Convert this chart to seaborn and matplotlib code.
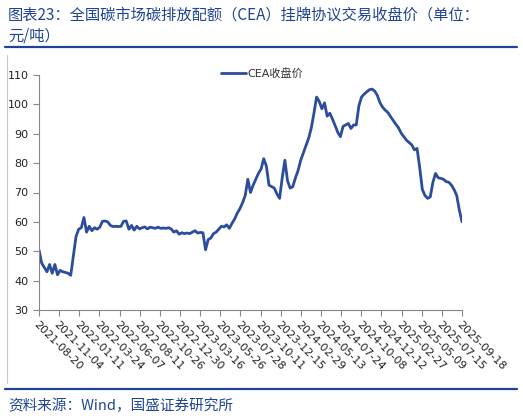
#!/usr/bin/env python3
import matplotlib.pyplot as plt
import numpy as np
import pandas as pd
import seaborn as sns
from matplotlib.lines import Line2D

# tick labels on the trading-day axis (evenly spaced)
tick_dates = [
    "2021-08-20", "2021-11-04", "2022-01-11", "2022-03-24", "2022-06-07",
    "2022-08-11", "2022-10-26", "2022-12-30", "2023-03-16", "2023-05-26",
    "2023-07-28", "2023-10-11", "2023-12-15", "2024-02-29", "2024-05-13",
    "2024-07-24", "2024-10-08", "2024-12-12", "2025-02-27", "2025-05-09",
    "2025-07-15", "2025-09-18",
]

price_2021_22 = [
    50.5, 46.0, 44.5, 43.0, 45.5, 42.5, 45.5, 42.0,
    43.5, 43.0, 42.8, 42.5, 41.8, 48.5, 55.0, 57.5,
    58.0, 61.5, 56.5, 58.5, 57.0, 58.0, 57.5, 58.2,
    60.2, 60.3, 60.0, 58.8, 58.4, 58.5, 58.4, 58.5,
    60.2, 60.3, 57.5, 58.8, 57.2, 58.5, 57.6, 58.0,
    58.3, 57.6, 58.2, 58.0, 57.8, 58.2, 57.8, 57.9,
    57.8, 58.0, 57.6, 56.5, 57.0, 55.8, 56.3, 56.0,
]
price_2023 = [
    56.2, 56.0, 56.5, 57.0, 56.2, 56.4, 56.3, 50.5,
    54.0, 54.5, 56.0, 56.5, 57.5, 58.5, 58.3, 59.0,
    57.8, 59.5, 61.0, 63.0, 64.5, 66.5, 69.0, 74.5,
    70.0, 72.5, 74.5, 76.5, 78.0, 81.5, 79.0, 72.5,
    72.0, 71.5, 69.5, 68.0, 75.0, 81.0, 74.0, 71.5,
]
price_2024 = [
    72.0, 75.0, 77.5, 81.0, 83.5, 86.0, 88.5, 92.0,
    97.0, 102.5, 101.0, 98.5, 100.5, 96.0, 97.0, 95.0,
    92.8, 90.5, 89.0, 92.5, 93.0, 93.5, 91.8, 93.0,
    93.0, 99.5, 102.5, 103.5, 104.3, 105.0, 105.2, 104.5,
    103.0, 100.5, 99.0, 98.0, 97.2, 95.8, 94.5, 93.2,
]
price_2025 = [
    92.0, 90.2, 89.0, 87.8, 87.0, 86.2, 84.5, 85.0,
    78.5, 71.0, 69.0, 68.0, 68.5, 73.5, 76.5, 75.0,
    74.8, 74.5, 73.7, 73.5, 72.5, 71.0, 69.0, 64.0,
    60.0,
]

prices = price_2021_22 + price_2023 + price_2024 + price_2025

blue = "#2b4d9c"
text_blue = "#1f4496"
grey = "#868686"

sns.set_theme(style="ticks")
plt.rcParams["font.family"] = ["DejaVu Sans", "Noto Sans CJK SC"]

df = pd.DataFrame({"idx": np.arange(len(prices)), "price": prices})

fig = plt.figure(figsize=(5.23, 4.18), dpi=100)
ax = fig.add_axes([39 / 523, 1 - 310 / 418, 423 / 523, 235 / 418])

sns.lineplot(data=df, x="idx", y="price", ax=ax, color=blue, linewidth=2.0,
             label="CEA收盘价")

ax.set_xlim(0, len(prices) - 1)
ax.set_ylim(30, 110)
ax.set_yticks(range(30, 111, 10))
ax.set_xticks(np.linspace(0, len(prices) - 1, len(tick_dates)))
ax.set_xticklabels(tick_dates, rotation=-45, ha="left", rotation_mode="anchor")
ax.set_xlabel("")
ax.set_ylabel("")
ax.tick_params(axis="both", labelsize=8, length=4, color=grey, width=0.8,
               labelcolor="#222222")
ax.tick_params(axis="x", pad=3)
for side in ["top", "right"]:
    ax.spines[side].set_visible(False)
for side in ["left", "bottom"]:
    ax.spines[side].set_color(grey)
    ax.spines[side].set_linewidth(0.8)

ax.legend(frameon=False, loc="center", bbox_to_anchor=(0.527, 1.008),
          fontsize=8, handlelength=2.3, handletextpad=0.1,
          labelcolor="#333333")

# title block and footer
fig.text(8 / 523, 1 - 15 / 418, "图表23：全国碳市场碳排放配额（CEA）挂牌协议交易收盘价（单位：",
         fontsize=11, color=text_blue, va="center", ha="left",
         family=["Noto Sans CJK SC", "DejaVu Sans"])
fig.text(8 / 523, 1 - 36 / 418, "元/吨）",
         fontsize=11, color=text_blue, va="center", ha="left",
         family=["Noto Sans CJK SC", "DejaVu Sans"])
fig.add_artist(Line2D([5 / 523, 517 / 523], [1 - 47 / 418, 1 - 47 / 418],
                      transform=fig.transFigure, color=text_blue, linewidth=1.6))
fig.add_artist(Line2D([7 / 523, 7 / 523], [1 - 55 / 418, 1 - 383 / 418],
                      transform=fig.transFigure, color="#c8c8c8", linewidth=0.8))
fig.add_artist(Line2D([5 / 523, 517 / 523], [1 - 389 / 418, 1 - 389 / 418],
                      transform=fig.transFigure, color=text_blue, linewidth=1.6))
fig.text(8 / 523, 1 - 406 / 418, "资料来源：Wind，国盛证券研究所",
         fontsize=10.5, color=text_blue, va="center", ha="left",
         family=["Noto Sans CJK SC", "DejaVu Sans"])

fig.savefig("out.png", dpi=100)
